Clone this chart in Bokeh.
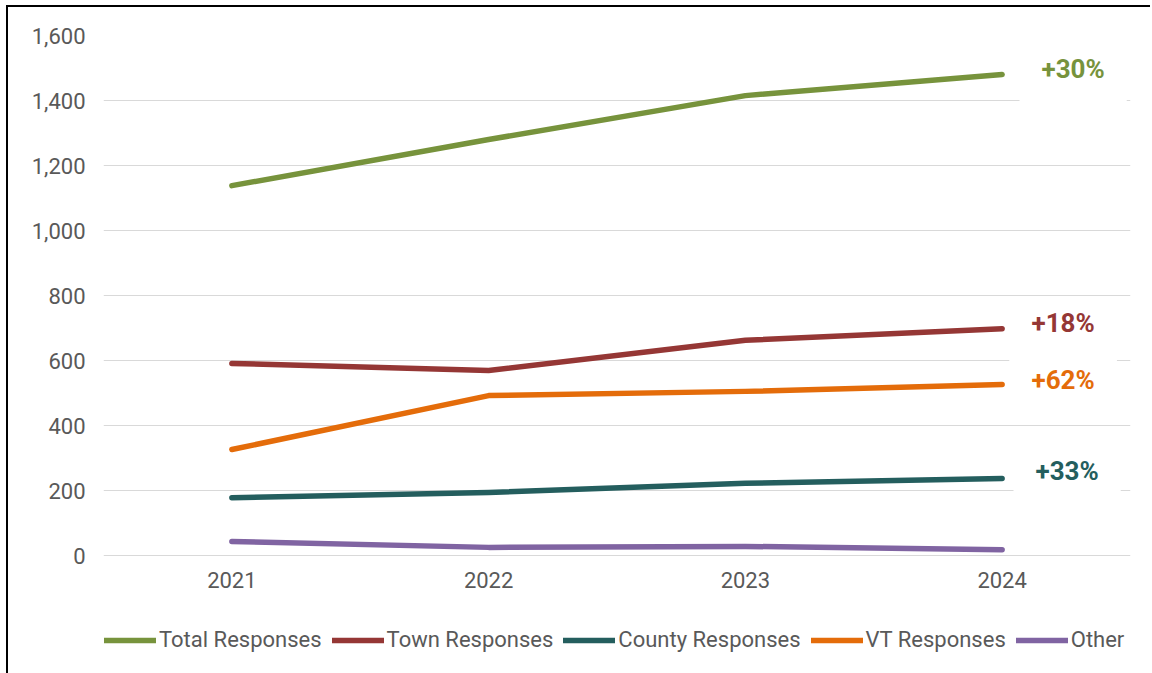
from bokeh.plotting import figure
from bokeh.models import (Range1d, FixedTicker, NumeralTickFormatter, Legend, LegendItem,
                          Label)
from bokeh.embed import file_html
from bokeh.resources import INLINE

# ---- data ----
years = ["2021", "2022", "2023", "2024"]
total = [1138, 1280, 1415, 1480]
town = [591, 569, 662, 698]
county = [178, 194, 222, 237]
vt = [326, 492, 505, 526]
other = [43, 25, 28, 18]
series_names = ["Total Responses", "Town Responses", "County Responses", "VT Responses", "Other"]
change_labels = ["+30%", "+18%", "+33%", "+62%", ""]
y_ticks = [0, 200, 400, 600, 800, 1000, 1200, 1400, 1600]

# ---- styles ----
colors = ["#77933C", "#953735", "#245E5E", "#E46C0A", "#8064A2"]
label_offsets = [(71, -4), (61, -4), (65, -3), (61, -5), (0, 0)]
FONT = "Roboto"
GREY = "#595959"
PX_PER_UNIT = 0.325          # vertical scale of the value axis
BOTTOM_ROOM_PX = 118         # space under the zero line for year labels + legend
y_top = y_ticks[-1]
y_bottom = -BOTTOM_ROOM_PX / PX_PER_UNIT

xs = [i + 0.5 for i in range(len(years))]

p = figure(frame_width=1027, frame_height=round((y_top - y_bottom) * PX_PER_UNIT),
           output_backend="svg", toolbar_location=None,
           x_range=Range1d(0, len(years)), y_range=Range1d(y_bottom, y_top),
           min_border_left=95, min_border_right=20, min_border_top=28, min_border_bottom=0,
           styles={"border-left": "2px solid black", "border-top": "2px solid black",
                   "margin-left": "6px", "margin-top": "5px"})
p.outline_line_color = None
p.background_fill_color = "white"
p.border_fill_color = "white"

p.xgrid.grid_line_color = None
p.ygrid.grid_line_color = "#D9D9D9"
p.ygrid.grid_line_width = 1.2

p.yaxis.ticker = FixedTicker(ticks=y_ticks)
p.yaxis.formatter = NumeralTickFormatter(format="0,0")
p.xaxis.ticker = FixedTicker(ticks=xs)
p.xaxis.major_label_overrides = {x: y for x, y in zip(xs, years)}
p.xaxis.fixed_location = 0
for ax in (p.xaxis, p.yaxis):
    ax.axis_line_color = None
    ax.major_tick_line_color = None
    ax.minor_tick_line_color = None
    ax.major_tick_out = 0
    ax.major_label_text_font = FONT
    ax.major_label_text_font_size = "22px"
    ax.major_label_text_color = GREY
p.yaxis.major_label_standoff = 18
p.xaxis.major_label_standoff = 16

series = [total, town, county, vt, other]
items = []
for name, vals, col in zip(series_names, series, colors):
    r = p.line(xs, vals, line_color=col, line_width=5.5, line_cap="round", line_join="round")
    items.append(LegendItem(label=name, renderers=[r]))

for vals, col, lab, (dx, dy) in zip(series, colors, change_labels, label_offsets):
    if not lab:
        continue
    p.add_layout(Label(x=xs[-1], y=vals[-1], text=lab, x_offset=dx, y_offset=dy,
                       text_align="center", text_baseline="middle",
                       text_font=FONT, text_font_size="26px", text_font_style="bold",
                       text_color=col, background_fill_color="white",
                       padding=dict(left=22, right=22, top=6, bottom=26)))

legend = Legend(items=items, orientation="horizontal", location=(1, 21),
                label_text_font=FONT, label_text_font_size="22px", label_text_color=GREY,
                glyph_width=52, glyph_height=20, label_standoff=3, spacing=10,
                border_line_color=None, background_fill_alpha=0, margin=0, padding=0)
p.add_layout(legend, "center")

open("out.html", "w").write(file_html(p, INLINE))
